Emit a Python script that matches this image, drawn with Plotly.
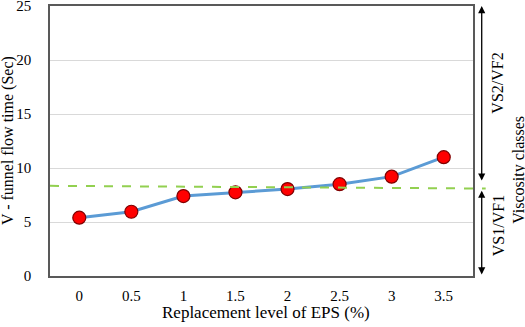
import plotly.graph_objects as go

categories = ["0", "0.5", "1", "1.5", "2", "2.5", "3", "3.5"]
flow_time = [5.4, 5.95, 7.4, 7.75, 8.05, 8.5, 9.2, 11.0]
threshold = [8.35, 8.1]  # dashed boundary at left / right end
y_ticks = [0, 5, 10, 15, 20, 25]

FONT = "Liberation Serif"

fig = go.Figure()
fig.add_trace(go.Scatter(
    x=categories, y=flow_time, mode="lines+markers",
    line=dict(color="#5B9BD5", width=3),
    marker=dict(size=13, color="#FF0000",
                line=dict(color="#7F0000", width=1.2)),
    showlegend=False,
))

fig.add_shape(type="line", xref="x domain", yref="y",
              x0=0, x1=1.03, y0=threshold[0], y1=threshold[1],
              line=dict(color="#92D050", width=2, dash="dash"))

ax_x = 1.0206
fig.add_annotation(xref="paper", yref="y", x=ax_x, y=25, axref="pixel",
                   ayref="y", ax=0, ay=8.7, showarrow=True, arrowhead=2,
                   arrowside="end+start", arrowsize=1.1, arrowwidth=1.3,
                   arrowcolor="black", text="")
fig.add_annotation(xref="paper", yref="y", x=ax_x, y=7.9, axref="pixel",
                   ayref="y", ax=0, ay=0, showarrow=True, arrowhead=2,
                   arrowside="end+start", arrowsize=1.1, arrowwidth=1.3,
                   arrowcolor="black", text="")

for txt, xp, yv in [("VS2/VF2", 1.059, 17.9), ("VS1/VF1", 1.059, 4.7),
                    ("Viscosity classes", 1.108, 9.8)]:
    fig.add_annotation(xref="paper", yref="y", x=xp, y=yv, text=txt,
                       textangle=-90, showarrow=False, xanchor="center",
                       yanchor="middle",
                       font=dict(family=FONT, size=16, color="black"))

# axis titles
fig.add_annotation(xref="paper", yref="paper", x=-0.099, y=0.5,
                   text="V - funnel flow time (Sec)", textangle=-90,
                   showarrow=False, xanchor="center", yanchor="middle",
                   font=dict(family=FONT, size=16, color="black"))
fig.add_annotation(xref="paper", yref="paper", x=0.511, y=-0.135,
                   text="Replacement level of EPS (%)",
                   showarrow=False, xanchor="center", yanchor="middle",
                   font=dict(family=FONT, size=17, color="black"))

fig.update_layout(
    width=525, height=327,
    margin=dict(l=50, r=52, t=6, b=51),
    plot_bgcolor="white", paper_bgcolor="white",
    font=dict(family=FONT, size=15, color="black"),
    xaxis=dict(
        type="category", showgrid=False, showline=True, mirror=True,
        linecolor="#595959", linewidth=1.5, ticks="", automargin=False,
        ticklabelstandoff=5,
        tickfont=dict(family=FONT, size=15),
    ),
    yaxis=dict(
        range=[0, 25], tickvals=y_ticks, showgrid=True, gridcolor="#D9D9D9",
        gridwidth=1, showline=True, mirror=True, linecolor="#595959",
        linewidth=1.5, ticks="", zeroline=False, automargin=False,
        ticklabelstandoff=14, ticklabeloverflow="allow",
        tickfont=dict(family=FONT, size=15),
    ),
)

fig.write_html("out.html", config={"displayModeBar": False},
               post_script="document.body.style.margin='0';document.body.style.padding='0';")
